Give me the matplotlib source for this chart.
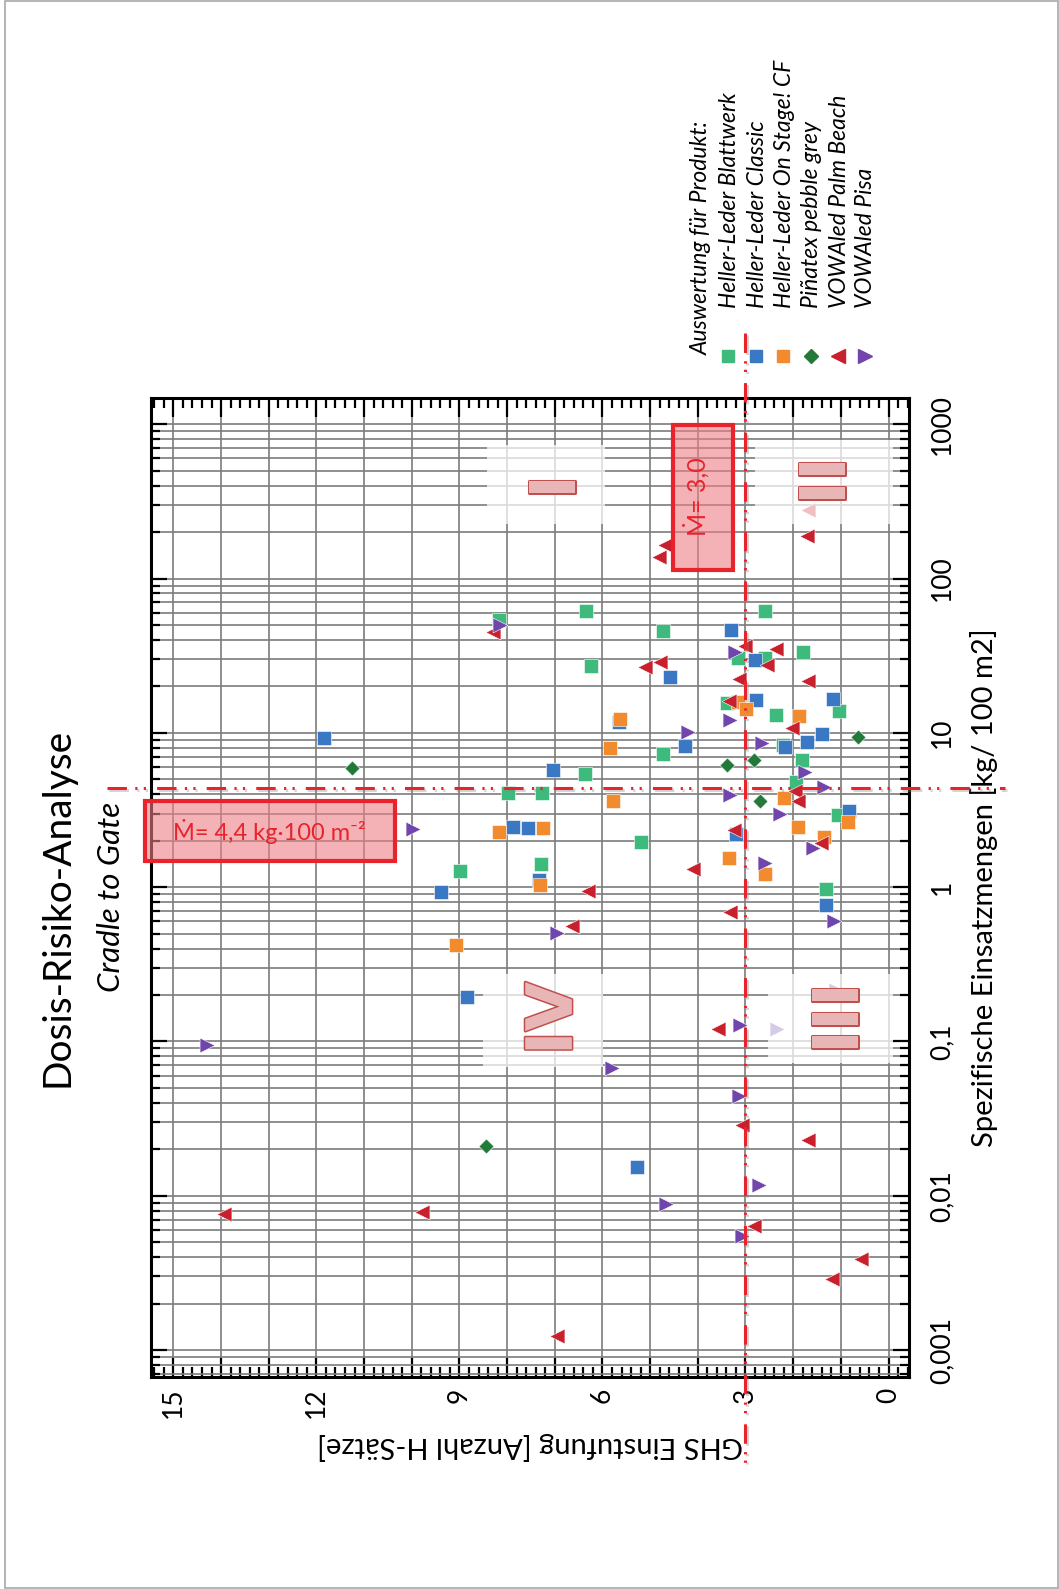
import matplotlib
matplotlib.use("Agg")
import matplotlib.pyplot as plt
import matplotlib.patheffects as pe
from matplotlib.lines import Line2D
from matplotlib.patches import Rectangle
from matplotlib.ticker import (FixedLocator, FixedFormatter, MultipleLocator,
                               LogLocator, NullFormatter, FuncFormatter)

plt.rcParams["font.family"] = ["Lato", "DejaVu Sans"]
plt.rcParams["lines.scale_dashes"] = False

# --- data: GHS count (H-Saetze) and specific amount [kg / 100 m2] ---------
blattwerk_ghs = [8.17, 7.98, 7.27, 6.35, 6.24, 2.60, 4.74, 1.80, 3.15, 2.59, 3.38, 2.36,
                 1.03, 2.22, 4.74, 1.82, 6.36, 1.94, 1.06, 5.19, 8.98, 7.29, 1.31]
blattwerk_menge = [53.7, 4.08, 4.05, 61.4, 27.3, 61.4, 45.5, 33.3, 30.6, 30.6, 15.6, 13.1,
                   13.8, 8.3, 7.3, 6.7, 5.42, 4.79, 2.95, 1.97, 1.28, 1.42, 0.976]

classic_ghs = [11.84, 7.03, 5.66, 3.31, 2.80, 4.59, 2.78, 1.17, 1.40, 1.71, 2.17, 4.26,
               0.82, 3.20, 7.88, 7.56, 7.34, 9.38, 1.31, 8.84, 5.27]
classic_menge = [9.3, 5.78, 11.7, 46.7, 29.8, 22.9, 16.4, 16.6, 9.9, 8.7, 8.07, 8.2,
                 3.13, 2.22, 2.46, 2.42, 1.11, 0.933, 0.771, 0.193, 0.0153]

onstage_ghs = [5.63, 5.84, 3.15, 2.99, 1.87, 2.19, 5.78, 0.85, 1.89, 1.36, 3.34, 2.60,
               8.18, 7.25, 7.32, 9.07]
onstage_menge = [12.3, 8.0, 15.8, 14.3, 12.8, 3.79, 3.64, 2.64, 2.45, 2.11, 1.55, 1.22,
                 2.27, 2.40, 1.03, 0.42]

pinatex_ghs = [11.26, 0.64, 2.82, 3.39, 2.69, 8.44]
pinatex_menge = [5.93, 9.4, 6.7, 6.2, 3.61, 0.0211]

palm_ghs = [8.30, 4.68, 4.81, 1.71, 1.69, 5.10, 3.02, 2.36, 2.55, 4.79, 3.13, 1.68,
            3.34, 2.03, 1.96, 1.90, 3.25, 1.42, 4.11, 6.31, 6.64, 3.32, 3.57, 3.08,
            1.69, 2.83, 0.57, 1.19, 6.96, 13.94, 9.79]
palm_menge = [45.2, 166, 138, 188, 277, 26.8, 36.4, 35.0, 27.7, 28.7, 22.4, 21.8,
              16.0, 10.8, 4.19, 3.64, 2.36, 1.92, 1.31, 0.94, 0.558, 0.687, 0.121, 0.0289,
              0.0229, 0.00634, 0.00386, 0.00289, 0.00124, 0.00764, 0.00787]

pisa_ghs = [8.15, 3.22, 3.32, 4.21, 2.66, 1.75, 1.36, 3.32, 2.27, 1.59, 2.59, 1.15,
            9.98, 6.96, 1.10, 3.11, 2.34, 5.80, 3.13, 2.71, 4.66, 3.08, 14.30]
pisa_menge = [49.8, 33.3, 12.2, 10.1, 8.6, 5.56, 4.47, 3.98, 2.99, 1.78, 1.44, 0.601,
              2.39, 0.506, 0.217, 0.127, 0.121, 0.0675, 0.0446, 0.0118, 0.00888, 0.00547,
              0.0944]

produkte = ["Heller-Leder Blattwerk", "Heller-Leder Classic", "Heller-Leder On Stage! CF",
            "Piñatex pebble grey", "VOWAled Palm Beach", "VOWAled Pisa"]

ghs_ticks = [15, 12, 9, 6, 3, 0]
menge_ticks = [0.001, 0.01, 0.1, 1, 10, 100, 1000]
menge_labels = ["0,001", "0,01", "0,1", "1", "10", "100", "1000"]

GHS_GRENZE = 3.0
MENGE_GRENZE = 4.4

# --- styles ------------------------------------------------------------------
SERIES = [
    (blattwerk_ghs, blattwerk_menge, "s", "#3dba7c", 92),
    (classic_ghs, classic_menge, "s", "#3b78c4", 92),
    (onstage_ghs, onstage_menge, "s", "#f28a2e", 92),
    (pinatex_ghs, pinatex_menge, "D", "#23793a", 58),
    (palm_ghs, palm_menge, "<", "#c8202c", 115),
    (pisa_ghs, pisa_menge, ">", "#7046ac", 115),
]
RED = "#e8232b"
GRID = "#7c7c7c"

W, H = 1059, 1589
fig = plt.figure(figsize=(W / 100, H / 100), dpi=100)
ax = fig.add_axes([151 / W, 1 - 1376.7 / H, 758 / W, 979 / H])


def fx(x):
    return x / W


def fy(y):
    return 1 - y / H


for xs, ys, m, c, s in SERIES:
    ax.scatter(xs, ys, marker=m, s=s, color=c, edgecolors="white", linewidths=0.4, zorder=3)

ax.set_yscale("log")
ax.set_xlim(15.47, -0.43)
ax.set_ylim(10 ** -3.173, 10 ** 3.172)

ax.xaxis.set_major_locator(MultipleLocator(1))
ax.xaxis.set_major_formatter(FuncFormatter(
    lambda v, p: str(int(round(v))) if int(round(v)) in ghs_ticks else ""))
ax.xaxis.set_minor_locator(MultipleLocator(0.2))
ax.yaxis.set_major_locator(FixedLocator(menge_ticks))
ax.yaxis.set_major_formatter(FixedFormatter(menge_labels))
ax.yaxis.set_minor_locator(LogLocator(base=10, subs=range(2, 10), numticks=30))
ax.yaxis.set_minor_formatter(NullFormatter())

ax.tick_params(axis="both", which="both", direction="in", colors="black", width=1.6,
               labelsize=19)
ax.tick_params(axis="x", which="major", length=13.5, top=True, bottom=True, pad=8,
               labelrotation=90)
ax.tick_params(axis="x", which="minor", length=7, top=True, bottom=True)
ax.tick_params(axis="y", which="major", length=11.5, left=True, right=True,
               labelleft=False, labelright=True, pad=15, labelrotation=90)
ax.tick_params(axis="y", which="minor", length=6.5, left=True, right=True)
for lab in ax.get_yticklabels():
    lab.set_verticalalignment("center")

ax.grid(True, axis="x", which="major", color=GRID, lw=1.2)
ax.grid(True, axis="y", which="both", color=GRID, lw=1.2)
ax.set_axisbelow(True)
for sp in ax.spines.values():
    sp.set_linewidth(2.2)

ax.set_xlabel("GHS Einstufung [Anzahl H-Sätze]", fontsize=21, rotation=180, labelpad=10)
ax.yaxis.set_label_position("right")
ax.set_ylabel("Spezifische Einsatzmengen [kg/ 100 m2]", fontsize=21, rotation=90,
              labelpad=11)

# threshold lines (dash-dot-dot)
dash = (0, (14, 6, 1.6, 4.5, 1.6, 8))
shadow = [pe.SimpleLineShadow(offset=(1.2, -1.2), shadow_color="#888888", alpha=0.35),
          pe.Normal()]
ax.plot([GHS_GRENZE, GHS_GRENZE], [10 ** 3.592, 10 ** -3.73], color=RED, lw=2.2,
        ls=dash, clip_on=False, zorder=6, path_effects=shadow)
ax.plot([16.39, -2.45], [MENGE_GRENZE, MENGE_GRENZE], color=RED, lw=2.2, ls=dash,
        clip_on=False, zorder=6, path_effects=shadow)

# red annotation boxes
ax.add_patch(Rectangle((10.35, 1.466), 15.59 - 10.35, 3.59 - 1.466, facecolor="#ef7f86",
                       alpha=0.6, edgecolor="none", clip_on=False, zorder=5))
ax.add_patch(Rectangle((10.35, 1.466), 15.59 - 10.35, 3.59 - 1.466, fill=False,
                       edgecolor=RED, lw=3, clip_on=False, zorder=7))
ax.text(15.0, 2.29, "Ṁ= 4,4 kg·100 m⁻²", color=RED, fontsize=17, ha="left",
        va="center", zorder=8)
ax.add_patch(Rectangle((3.26, 113), 4.52 - 3.26, 995 - 113, facecolor="#ef7f86",
                       alpha=0.6, edgecolor="none", zorder=5))
ax.add_patch(Rectangle((3.26, 113), 4.52 - 3.26, 995 - 113, fill=False, edgecolor=RED,
                       lw=3, zorder=7))
ax.text(4.02, 341, "Ṁ= 3,0", color=RED, fontsize=18, rotation=90, ha="center",
        va="center", zorder=8)

# quadrant labels I-IV
REGIONS = [
    ("I", 6.95, 394, (8.42, 5.95, 224, 738)),
    ("II", 1.28, 431, (2.80, -0.10, 224, 794)),
    ("III", 1.01, 0.1406, (2.52, -0.10, 0.0729, 0.2717)),
    ("IV", 7.02, 0.1406, (8.50, 5.98, 0.0687, 0.2717)),
]
for txt, gx, my, (x0, x1, y0, y1) in REGIONS:
    ax.add_patch(Rectangle((x1, y0), x0 - x1, y1 - y0, facecolor="white", alpha=0.72,
                           edgecolor="none", zorder=4))
    t = ax.text(gx, my, txt, rotation=90, ha="center", va="center", fontsize=46,
                fontweight="bold", family="DejaVu Sans", color="#e9b6b8", zorder=6)
    t.set_path_effects([pe.Stroke(linewidth=2.2, foreground="#c0504d"), pe.Normal()])

# titles
fig.text(fx(58), fy(907), "Dosis-Risiko-Analyse", rotation=90, fontsize=28,
         ha="center", va="center")
fig.text(fx(111), fy(897), "Cradle to Gate", rotation=90, fontsize=22.5, style="italic",
         ha="center", va="center")

# legend
fig.text(fx(701.7), fy(355), "Auswertung für Produkt:", rotation=90, fontsize=16.5,
         style="italic", ha="center", va="bottom")
leg_x = [728.3, 756, 783.3, 810.7, 838.3, 865]
for (xs, ys, m, c, s), name, lx in zip(SERIES, produkte, leg_x):
    fig.add_artist(Line2D([fx(lx)], [fy(356)], marker=m, color=c, ms=(s ** 0.5) * 0.95,
                          ls="none", transform=fig.transFigure))
    fig.text(fx(lx + 1), fy(308), name, rotation=90, fontsize=16.5, style="italic",
             ha="center", va="bottom")

fig.add_artist(Rectangle((fx(5), fy(1588)), fx(1053), 1587 / H, transform=fig.transFigure,
                         fill=False, edgecolor="#a8a8a8", lw=1.2))

fig.savefig("out.png", dpi=100)
